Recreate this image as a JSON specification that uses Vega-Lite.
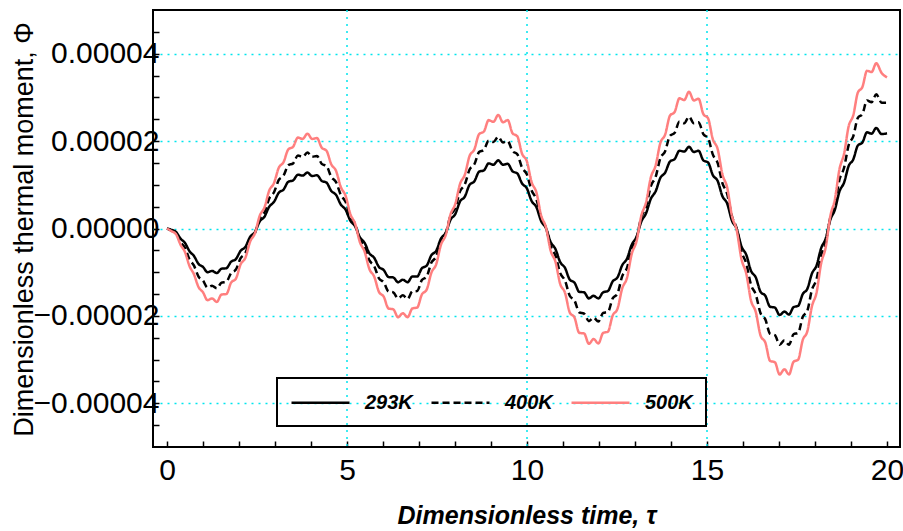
{
  "$schema": "https://vega.github.io/schema/vega-lite/v6.json",
  "width": 747,
  "height": 437,
  "autosize": {"type": "none"},
  "padding": {"left": 153, "top": 10, "right": 3, "bottom": 84},
  "background": "white",
  "config": {
    "view": {"stroke": "black", "strokeWidth": 2},
    "legend": {"strokeWidth": 2}
  },
  "encoding": {
    "x": {
      "field": "t", "type": "quantitative",
      "scale": {"domain": [-0.389, 20.361], "nice": false, "zero": false},
      "axis": {
        "orient": "bottom", "values": [0,1,2,3,4,5,6,7,8,9,10,11,12,13,14,15,16,17,18,19,20],
        "labelExpr": "datum.value % 5 === 0 ? datum.label : ''",
        "ticks": true, "tickSize": -6, "tickColor": "black", "tickWidth": 1.5, "domain": false,
        "grid": false,
        "labelFont": "Liberation Sans Narrow, Liberation Sans", "labelFontSize": 30, "labelColor": "black",
        "labelPadding": 14, "labelFlush": false, "labelOverlap": false,
        "title": "Dimensionless time, τ", "titleFont": "Liberation Sans", "titleFontSize": 25,
        "titleFontWeight": "bold", "titleFontStyle": "italic", "titleColor": "black",
        "titleY": 76, "titleBaseline": "alphabetic"
      }
    },
    "y": {
      "field": "phi", "type": "quantitative",
      "scale": {"domain": [-5e-5, 5e-5], "nice": false, "zero": false},
      "axis": {
        "orient": "left",
        "values": [-4.5e-5,-4e-5,-3.5e-5,-3e-5,-2.5e-5,-2e-5,-1.5e-5,-1e-5,-0.5e-5,0,0.5e-5,1e-5,1.5e-5,2e-5,2.5e-5,3e-5,3.5e-5,4e-5,4.5e-5],
        "labelExpr": "round(datum.value * 1e6) % 20 === 0 ? format(datum.value, '.5f') : ''",
        "ticks": true, "tickSize": -6, "tickColor": "black", "tickWidth": 1.5, "domain": false,
        "grid": true, "gridColor": "#00e5ee", "gridDash": [2, 5], "gridWidth": 1.5,
        "gridOpacity": {"condition": {"test": "round(datum.value * 1e6) % 20 === 0", "value": 1}, "value": 0},
        "labelFont": "Liberation Sans Narrow, Liberation Sans", "labelFontSize": 30, "labelColor": "black",
        "labelPadding": 0, "labelFlush": false, "labelOverlap": false,
        "title": "Dimensionless thermal moment, Φ", "titleFont": "Liberation Sans", "titleFontSize": 27,
        "titleFontWeight": "normal", "titleColor": "black",
        "titleX": -129, "titleY": 219, "titleBaseline": "middle", "titleAlign": "center"
      }
    }
  },
  "layer": [
    {
      "data": {"values": [{"g": 5}, {"g": 10}, {"g": 15}]},
      "mark": {"type": "rule", "color": "#00e5ee", "strokeDash": [2, 5], "strokeWidth": 1.5},
      "encoding": {
        "x": {"field": "g", "type": "quantitative"},
        "y": null
      }
    },
    {
      "data": {"values": [
        {"tk":0},{"tk":1},{"tk":2},{"tk":3},{"tk":4},{"tk":5},{"tk":6},{"tk":7},{"tk":8},{"tk":9},{"tk":10},
        {"tk":11},{"tk":12},{"tk":13},{"tk":14},{"tk":15},{"tk":16},{"tk":17},{"tk":18},{"tk":19},{"tk":20}
      ]},
      "mark": {"type": "tick", "orient": "vertical", "size": 12, "thickness": 1.5, "color": "black", "clip": true, "opacity": 1},
      "encoding": {
        "x": {"field": "tk", "type": "quantitative"},
        "y": {"datum": 5e-5, "type": "quantitative"}
      }
    },
    {
      "data": {"values": [
        {"tk":-4.5e-5},{"tk":-4e-5},{"tk":-3.5e-5},{"tk":-3e-5},{"tk":-2.5e-5},{"tk":-2e-5},{"tk":-1.5e-5},{"tk":-1e-5},{"tk":-0.5e-5},{"tk":0},
        {"tk":0.5e-5},{"tk":1e-5},{"tk":1.5e-5},{"tk":2e-5},{"tk":2.5e-5},{"tk":3e-5},{"tk":3.5e-5},{"tk":4e-5},{"tk":4.5e-5}
      ]},
      "mark": {"type": "tick", "orient": "horizontal", "size": 12, "thickness": 1.5, "color": "black", "clip": true, "opacity": 1},
      "encoding": {
        "y": {"field": "tk", "type": "quantitative"},
        "x": {"datum": 20.361, "type": "quantitative"}
      }
    },
    {
      "data": {"values": [
        {"t":0,"293K":0,"400K":0,"500K":0},
        {"t":0.125,"293K":-0.3e-6,"400K":-0.5e-6,"500K":-0.6e-6},
        {"t":0.25,"293K":-0.8e-6,"400K":-1.0e-6,"500K":-1.3e-6},
        {"t":0.375,"293K":-2.3e-6,"400K":-3.1e-6,"500K":-3.7e-6},
        {"t":0.5,"293K":-3.3e-6,"400K":-4.4e-6,"500K":-5.4e-6},
        {"t":0.625,"293K":-5.2e-6,"400K":-7.1e-6,"500K":-8.6e-6},
        {"t":0.75,"293K":-6.3e-6,"400K":-8.5e-6,"500K":-10.5e-6},
        {"t":0.875,"293K":-8.1e-6,"400K":-11.0e-6,"500K":-13.4e-6},
        {"t":1.0,"293K":-8.8e-6,"400K":-11.9e-6,"500K":-14.6e-6},
        {"t":1.125,"293K":-10.0e-6,"400K":-13.5e-6,"500K":-16.4e-6},
        {"t":1.25,"293K":-9.7e-6,"400K":-13.1e-6,"500K":-16.0e-6},
        {"t":1.3825,"293K":-10.2e-6,"400K":-13.7e-6,"500K":-16.8e-6},
        {"t":1.515,"293K":-9.2e-6,"400K":-12.4e-6,"500K":-15.1e-6},
        {"t":1.6475,"293K":-9.1e-6,"400K":-12.2e-6,"500K":-15.0e-6},
        {"t":1.78,"293K":-7.6e-6,"400K":-10.2e-6,"500K":-12.4e-6},
        {"t":1.9125,"293K":-7.0e-6,"400K":-9.4e-6,"500K":-11.5e-6},
        {"t":2.045,"293K":-5.1e-6,"400K":-6.8e-6,"500K":-8.2e-6},
        {"t":2.1775,"293K":-4.2e-6,"400K":-5.6e-6,"500K":-6.7e-6},
        {"t":2.31,"293K":-1.9e-6,"400K":-2.6e-6,"500K":-3.0e-6},
        {"t":2.4425,"293K":-0.8e-6,"400K":-1.0e-6,"500K":-1.1e-6},
        {"t":2.575,"293K":1.6e-6,"400K":2.2e-6,"500K":2.9e-6},
        {"t":2.7075,"293K":2.7e-6,"400K":3.7e-6,"500K":4.8e-6},
        {"t":2.84,"293K":5.0e-6,"400K":6.9e-6,"500K":8.7e-6},
        {"t":2.9725,"293K":6.1e-6,"400K":8.3e-6,"500K":10.4e-6},
        {"t":3.105,"293K":8.2e-6,"400K":11.1e-6,"500K":13.9e-6},
        {"t":3.2375,"293K":8.9e-6,"400K":12.1e-6,"500K":15.2e-6},
        {"t":3.37,"293K":10.7e-6,"400K":14.5e-6,"500K":18.1e-6},
        {"t":3.5025,"293K":11.0e-6,"400K":14.9e-6,"500K":18.7e-6},
        {"t":3.635,"293K":12.3e-6,"400K":16.7e-6,"500K":20.8e-6},
        {"t":3.7675,"293K":12.1e-6,"400K":16.4e-6,"500K":20.5e-6},
        {"t":3.9,"293K":12.8e-6,"400K":17.4e-6,"500K":21.7e-6},
        {"t":4.0325,"293K":12.0e-6,"400K":16.4e-6,"500K":20.5e-6},
        {"t":4.165,"293K":12.2e-6,"400K":16.6e-6,"500K":20.7e-6},
        {"t":4.2975,"293K":10.9e-6,"400K":14.8e-6,"500K":18.5e-6},
        {"t":4.43,"293K":10.5e-6,"400K":14.3e-6,"500K":17.8e-6},
        {"t":4.5625,"293K":8.6e-6,"400K":11.8e-6,"500K":14.7e-6},
        {"t":4.695,"293K":7.7e-6,"400K":10.6e-6,"500K":13.2e-6},
        {"t":4.8275,"293K":5.5e-6,"400K":7.7e-6,"500K":9.5e-6},
        {"t":4.96,"293K":4.3e-6,"400K":6.1e-6,"500K":7.5e-6},
        {"t":5.0925,"293K":1.8e-6,"400K":2.8e-6,"500K":3.3e-6},
        {"t":5.225,"293K":0.5e-6,"400K":1.0e-6,"500K":1.1e-6},
        {"t":5.3575,"293K":-2.0e-6,"400K":-2.4e-6,"500K":-3.1e-6},
        {"t":5.49,"293K":-3.3e-6,"400K":-4.1e-6,"500K":-5.3e-6},
        {"t":5.6225,"293K":-5.7e-6,"400K":-7.3e-6,"500K":-9.3e-6},
        {"t":5.755,"293K":-6.7e-6,"400K":-8.6e-6,"500K":-11.0e-6},
        {"t":5.8875,"293K":-8.8e-6,"400K":-11.4e-6,"500K":-14.5e-6},
        {"t":6.02,"293K":-9.5e-6,"400K":-12.3e-6,"500K":-15.6e-6},
        {"t":6.1525,"293K":-11.1e-6,"400K":-14.4e-6,"500K":-18.3e-6},
        {"t":6.285,"293K":-11.2e-6,"400K":-14.6e-6,"500K":-18.5e-6},
        {"t":6.4175,"293K":-12.3e-6,"400K":-16.0e-6,"500K":-20.3e-6},
        {"t":6.55,"293K":-11.7e-6,"400K":-15.3e-6,"500K":-19.4e-6},
        {"t":6.6825,"293K":-12.3e-6,"400K":-16.1e-6,"500K":-20.3e-6},
        {"t":6.815,"293K":-11.0e-6,"400K":-14.4e-6,"500K":-18.3e-6},
        {"t":6.9475,"293K":-11.0e-6,"400K":-14.3e-6,"500K":-18.1e-6},
        {"t":7.08,"293K":-9.1e-6,"400K":-11.8e-6,"500K":-15.1e-6},
        {"t":7.2125,"293K":-8.5e-6,"400K":-11.0e-6,"500K":-14.0e-6},
        {"t":7.345,"293K":-6.1e-6,"400K":-7.8e-6,"500K":-10.1e-6},
        {"t":7.4775,"293K":-5.1e-6,"400K":-6.4e-6,"500K":-8.2e-6},
        {"t":7.61,"293K":-2.3e-6,"400K":-2.8e-6,"500K":-3.7e-6},
        {"t":7.7425,"293K":-1.0e-6,"400K":-1.0e-6,"500K":-1.5e-6},
        {"t":7.875,"293K":2.0e-6,"400K":2.9e-6,"500K":3.2e-6},
        {"t":8.0075,"293K":3.3e-6,"400K":4.7e-6,"500K":5.6e-6},
        {"t":8.14,"293K":6.2e-6,"400K":8.5e-6,"500K":10.2e-6},
        {"t":8.2725,"293K":7.3e-6,"400K":10.1e-6,"500K":12.3e-6},
        {"t":8.405,"293K":10.0e-6,"400K":13.5e-6,"500K":16.6e-6},
        {"t":8.5375,"293K":10.8e-6,"400K":14.7e-6,"500K":18.1e-6},
        {"t":8.67,"293K":13.0e-6,"400K":17.5e-6,"500K":21.6e-6},
        {"t":8.8025,"293K":13.3e-6,"400K":18.0e-6,"500K":22.2e-6},
        {"t":8.935,"293K":14.9e-6,"400K":20.1e-6,"500K":24.8e-6},
        {"t":9.0675,"293K":14.6e-6,"400K":19.8e-6,"500K":24.4e-6},
        {"t":9.2,"293K":15.6e-6,"400K":21.0e-6,"500K":26.0e-6},
        {"t":9.3325,"293K":14.6e-6,"400K":19.7e-6,"500K":24.3e-6},
        {"t":9.465,"293K":14.8e-6,"400K":20.0e-6,"500K":24.8e-6},
        {"t":9.5975,"293K":13.1e-6,"400K":17.7e-6,"500K":21.8e-6},
        {"t":9.73,"293K":12.6e-6,"400K":17.0e-6,"500K":21.1e-6},
        {"t":9.8625,"293K":10.3e-6,"400K":13.9e-6,"500K":17.1e-6},
        {"t":9.995,"293K":9.2e-6,"400K":12.4e-6,"500K":15.4e-6},
        {"t":10.1275,"293K":6.3e-6,"400K":8.7e-6,"500K":10.6e-6},
        {"t":10.26,"293K":4.9e-6,"400K":6.7e-6,"500K":8.3e-6},
        {"t":10.3925,"293K":1.7e-6,"400K":2.5e-6,"500K":3.0e-6},
        {"t":10.525,"293K":0.1e-6,"400K":0.2e-6,"500K":0.3e-6},
        {"t":10.6575,"293K":-3.1e-6,"400K":-4.0e-6,"500K":-5.1e-6},
        {"t":10.79,"293K":-4.7e-6,"400K":-6.2e-6,"500K":-7.6e-6},
        {"t":10.9225,"293K":-7.7e-6,"400K":-10.2e-6,"500K":-12.7e-6},
        {"t":11.055,"293K":-9.0e-6,"400K":-11.9e-6,"500K":-14.7e-6},
        {"t":11.1875,"293K":-11.7e-6,"400K":-15.4e-6,"500K":-19.2e-6},
        {"t":11.32,"293K":-12.4e-6,"400K":-16.5e-6,"500K":-20.4e-6},
        {"t":11.4525,"293K":-14.5e-6,"400K":-19.2e-6,"500K":-23.9e-6},
        {"t":11.585,"293K":-14.6e-6,"400K":-19.5e-6,"500K":-24.0e-6},
        {"t":11.7175,"293K":-16.0e-6,"400K":-21.2e-6,"500K":-26.4e-6},
        {"t":11.85,"293K":-15.4e-6,"400K":-20.4e-6,"500K":-25.3e-6},
        {"t":11.9825,"293K":-16.0e-6,"400K":-21.3e-6,"500K":-26.3e-6},
        {"t":12.115,"293K":-14.6e-6,"400K":-19.3e-6,"500K":-23.9e-6},
        {"t":12.2475,"293K":-14.3e-6,"400K":-19.1e-6,"500K":-23.6e-6},
        {"t":12.38,"293K":-12.1e-6,"400K":-16.0e-6,"500K":-19.9e-6},
        {"t":12.5125,"293K":-11.2e-6,"400K":-14.9e-6,"500K":-18.4e-6},
        {"t":12.645,"293K":-8.4e-6,"400K":-10.9e-6,"500K":-13.7e-6},
        {"t":12.7775,"293K":-6.9e-6,"400K":-9.0e-6,"500K":-11.3e-6},
        {"t":12.91,"293K":-3.7e-6,"400K":-4.5e-6,"500K":-5.8e-6},
        {"t":13.0425,"293K":-1.9e-6,"400K":-2.2e-6,"500K":-2.9e-6},
        {"t":13.175,"293K":1.6e-6,"400K":2.6e-6,"500K":2.9e-6},
        {"t":13.3075,"293K":3.5e-6,"400K":5.0e-6,"500K":6.0e-6},
        {"t":13.44,"293K":6.8e-6,"400K":9.7e-6,"500K":11.7e-6},
        {"t":13.5725,"293K":8.5e-6,"400K":11.8e-6,"500K":14.4e-6},
        {"t":13.705,"293K":11.6e-6,"400K":16.1e-6,"500K":19.6e-6},
        {"t":13.8375,"293K":12.8e-6,"400K":17.7e-6,"500K":21.5e-6},
        {"t":13.97,"293K":15.3e-6,"400K":21.2e-6,"500K":25.8e-6},
        {"t":14.1025,"293K":15.9e-6,"400K":21.9e-6,"500K":26.7e-6},
        {"t":14.235,"293K":17.8e-6,"400K":24.5e-6,"500K":29.8e-6},
        {"t":14.3675,"293K":17.6e-6,"400K":24.1e-6,"500K":29.4e-6},
        {"t":14.5,"293K":18.7e-6,"400K":25.6e-6,"500K":31.3e-6},
        {"t":14.6325,"293K":17.5e-6,"400K":24.1e-6,"500K":29.3e-6},
        {"t":14.765,"293K":17.8e-6,"400K":24.3e-6,"500K":29.7e-6},
        {"t":14.8975,"293K":15.6e-6,"400K":21.6e-6,"500K":26.2e-6},
        {"t":15.03,"293K":15.1e-6,"400K":20.7e-6,"500K":25.2e-6},
        {"t":15.1625,"293K":12.2e-6,"400K":16.9e-6,"500K":20.4e-6},
        {"t":15.295,"293K":10.9e-6,"400K":15.0e-6,"500K":18.2e-6},
        {"t":15.4275,"293K":7.4e-6,"400K":10.4e-6,"500K":12.4e-6},
        {"t":15.56,"293K":5.7e-6,"400K":7.9e-6,"500K":9.4e-6},
        {"t":15.6925,"293K":1.8e-6,"400K":2.8e-6,"500K":2.9e-6},
        {"t":15.825,"293K":-0.1e-6,"400K":0.0,"500K":-0.4e-6},
        {"t":15.9575,"293K":-4.1e-6,"400K":-5.3e-6,"500K":-7.0e-6},
        {"t":16.09,"293K":-6.0e-6,"400K":-8.0e-6,"500K":-10.3e-6},
        {"t":16.2225,"293K":-9.7e-6,"400K":-12.9e-6,"500K":-16.5e-6},
        {"t":16.355,"293K":-11.2e-6,"400K":-15.1e-6,"500K":-19.1e-6},
        {"t":16.4875,"293K":-14.5e-6,"400K":-19.4e-6,"500K":-24.5e-6},
        {"t":16.62,"293K":-15.4e-6,"400K":-20.8e-6,"500K":-26.1e-6},
        {"t":16.7525,"293K":-17.9e-6,"400K":-24.1e-6,"500K":-30.3e-6},
        {"t":16.885,"293K":-18.1e-6,"400K":-24.4e-6,"500K":-30.6e-6},
        {"t":17.0175,"293K":-19.8e-6,"400K":-26.6e-6,"500K":-33.4e-6},
        {"t":17.15,"293K":-19.0e-6,"400K":-25.6e-6,"500K":-32.2e-6},
        {"t":17.2775,"293K":-19.7e-6,"400K":-26.6e-6,"500K":-33.4e-6},
        {"t":17.405,"293K":-18.0e-6,"400K":-24.2e-6,"500K":-30.5e-6},
        {"t":17.5325,"293K":-17.7e-6,"400K":-23.9e-6,"500K":-30.0e-6},
        {"t":17.66,"293K":-15.0e-6,"400K":-20.2e-6,"500K":-25.5e-6},
        {"t":17.7875,"293K":-13.8e-6,"400K":-18.8e-6,"500K":-23.5e-6},
        {"t":17.915,"293K":-10.3e-6,"400K":-14.0e-6,"500K":-17.8e-6},
        {"t":18.0425,"293K":-8.5e-6,"400K":-11.6e-6,"500K":-14.7e-6},
        {"t":18.17,"293K":-4.5e-6,"400K":-6.1e-6,"500K":-8.0e-6},
        {"t":18.2975,"293K":-2.3e-6,"400K":-3.3e-6,"500K":-4.3e-6},
        {"t":18.425,"293K":2.0e-6,"400K":2.5e-6,"500K":2.8e-6},
        {"t":18.5525,"293K":4.3e-6,"400K":5.5e-6,"500K":6.7e-6},
        {"t":18.68,"293K":8.5e-6,"400K":11.2e-6,"500K":13.6e-6},
        {"t":18.8075,"293K":10.5e-6,"400K":13.9e-6,"500K":17.1e-6},
        {"t":18.935,"293K":14.3e-6,"400K":19.1e-6,"500K":23.4e-6},
        {"t":19.0625,"293K":15.8e-6,"400K":21.1e-6,"500K":25.9e-6},
        {"t":19.19,"293K":19.0e-6,"400K":25.3e-6,"500K":31.1e-6},
        {"t":19.3175,"293K":19.7e-6,"400K":26.2e-6,"500K":32.4e-6},
        {"t":19.445,"293K":22.0e-6,"400K":29.3e-6,"500K":36.1e-6},
        {"t":19.5725,"293K":21.7e-6,"400K":28.9e-6,"500K":35.8e-6},
        {"t":19.7,"293K":23.0e-6,"400K":30.7e-6,"500K":37.8e-6},
        {"t":19.85,"293K":21.6e-6,"400K":28.8e-6,"500K":35.6e-6},
        {"t":20.0,"293K":21.8e-6,"400K":28.8e-6,"500K":34.6e-6}
      ]},
      "transform": [{"fold": ["293K", "400K", "500K"], "as": ["series", "phi"]}],
      "mark": {"type": "line", "strokeWidth": 2.5, "interpolate": "monotone"},
      "encoding": {
        "color": {
          "field": "series", "type": "nominal",
          "scale": {"domain": ["293K", "400K", "500K"], "range": ["#000000", "#000000", "#ff7f7f"]},
          "legend": {
            "orient": "none", "legendX": 124, "legendY": 368, "direction": "horizontal", "title": null,
            "symbolType": "M-1,0H4.8", "symbolSize": 400, "symbolStrokeWidth": 2.5,
            "labelFont": "Liberation Sans", "labelFontSize": 20, "labelFontWeight": "bold",
            "labelFontStyle": "italic", "labelColor": "black", "labelOffset": 52, "columnPadding": 13,
            "padding": 13, "strokeColor": "black"
          }
        },
        "strokeDash": {
          "field": "series", "type": "nominal",
          "scale": {"domain": ["293K", "400K", "500K"], "range": [[1, 0], [7, 4], [1, 0]]},
          "legend": {"title": null}
        }
      }
    }
  ]
}
